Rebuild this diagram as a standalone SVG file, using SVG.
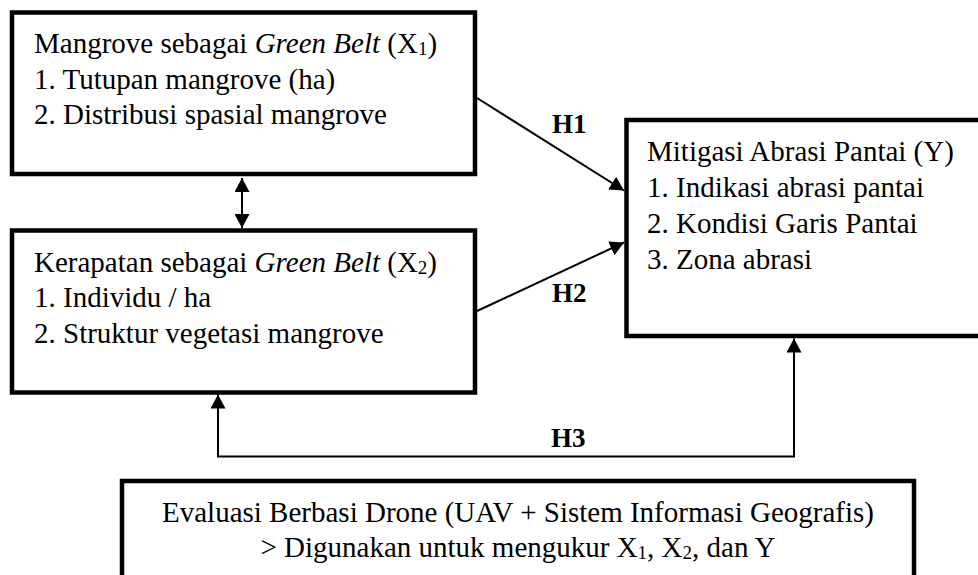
<svg xmlns="http://www.w3.org/2000/svg" width="978" height="575" viewBox="0 0 978 575">
<style>
.box{fill:#fff;stroke:#000;stroke-width:4.5}
.t{font-family:"Liberation Serif","Times New Roman",serif;font-size:29px;fill:#000}
.h{font-family:"Liberation Serif","Times New Roman",serif;font-size:27px;font-weight:bold;fill:#000}
.c{fill:none;stroke:#000;stroke-width:2}
.sub{font-size:19px}
</style>
<defs>
<marker id="ah" markerUnits="userSpaceOnUse" markerWidth="14" markerHeight="15" refX="14" refY="7.5" orient="auto-start-reverse" viewBox="0 0 14 15">
<path d="M0,0 L14,7.5 L0,15 Z" fill="#000"/>
</marker>
</defs>
<rect width="978" height="575" fill="#fff"/>
<g id="connectors">
<line class="c" x1="242" y1="178" x2="242" y2="228" marker-start="url(#ah)" marker-end="url(#ah)"/>
<line class="c" x1="477" y1="98" x2="624" y2="190.5" marker-end="url(#ah)"/>
<line class="c" x1="477" y1="311" x2="624" y2="242.5" marker-end="url(#ah)"/>
<path class="c" d="M218,394.5 L218,456.5 L794,456.5 L794,338.5" marker-start="url(#ah)" marker-end="url(#ah)"/>
<text class="h" x="552" y="133">H1</text>
<text class="h" x="552" y="302">H2</text>
<text class="h" x="551" y="447">H3</text>
</g>
<g id="x1">
<rect class="box" x="12" y="12.5" width="463" height="161.5"/>
<text class="t" x="34" y="53">Mangrove sebagai <tspan font-style="italic">Green Belt</tspan> (X<tspan class="sub" dy="2">1</tspan><tspan dy="-2">)</tspan></text>
<text class="t" x="34" y="88.5">1. Tutupan mangrove (ha)</text>
<text class="t" x="34" y="124">2. Distribusi spasial mangrove</text>
</g>
<g id="x2">
<rect class="box" x="12" y="230.5" width="463" height="162"/>
<text class="t" x="34" y="271.5">Kerapatan sebagai <tspan font-style="italic">Green Belt</tspan> (X<tspan class="sub" dy="2">2</tspan><tspan dy="-2">)</tspan></text>
<text class="t" x="34" y="307">1. Individu / ha</text>
<text class="t" x="34" y="342.5">2. Struktur vegetasi mangrove</text>
</g>
<g id="y">
<rect class="box" x="626.5" y="120" width="370" height="216"/>
<text class="t" x="647" y="161">Mitigasi Abrasi Pantai (Y)</text>
<text class="t" x="647" y="197">1. Indikasi abrasi pantai</text>
<text class="t" x="647" y="233">2. Kondisi Garis Pantai</text>
<text class="t" x="647" y="269">3. Zona abrasi</text>
</g>
<g id="drone">
<rect class="box" x="122" y="481" width="792" height="96.5"/>
<text class="t" x="518" y="521.5" text-anchor="middle">Evaluasi Berbasi Drone (UAV + Sistem Informasi Geografis)</text>
<text class="t" x="518" y="556.5" text-anchor="middle">&gt; Digunakan untuk mengukur X<tspan class="sub" dy="2">1</tspan><tspan dy="-2">, X</tspan><tspan class="sub" dy="2">2</tspan><tspan dy="-2">, dan Y</tspan></text>
</g>
</svg>
